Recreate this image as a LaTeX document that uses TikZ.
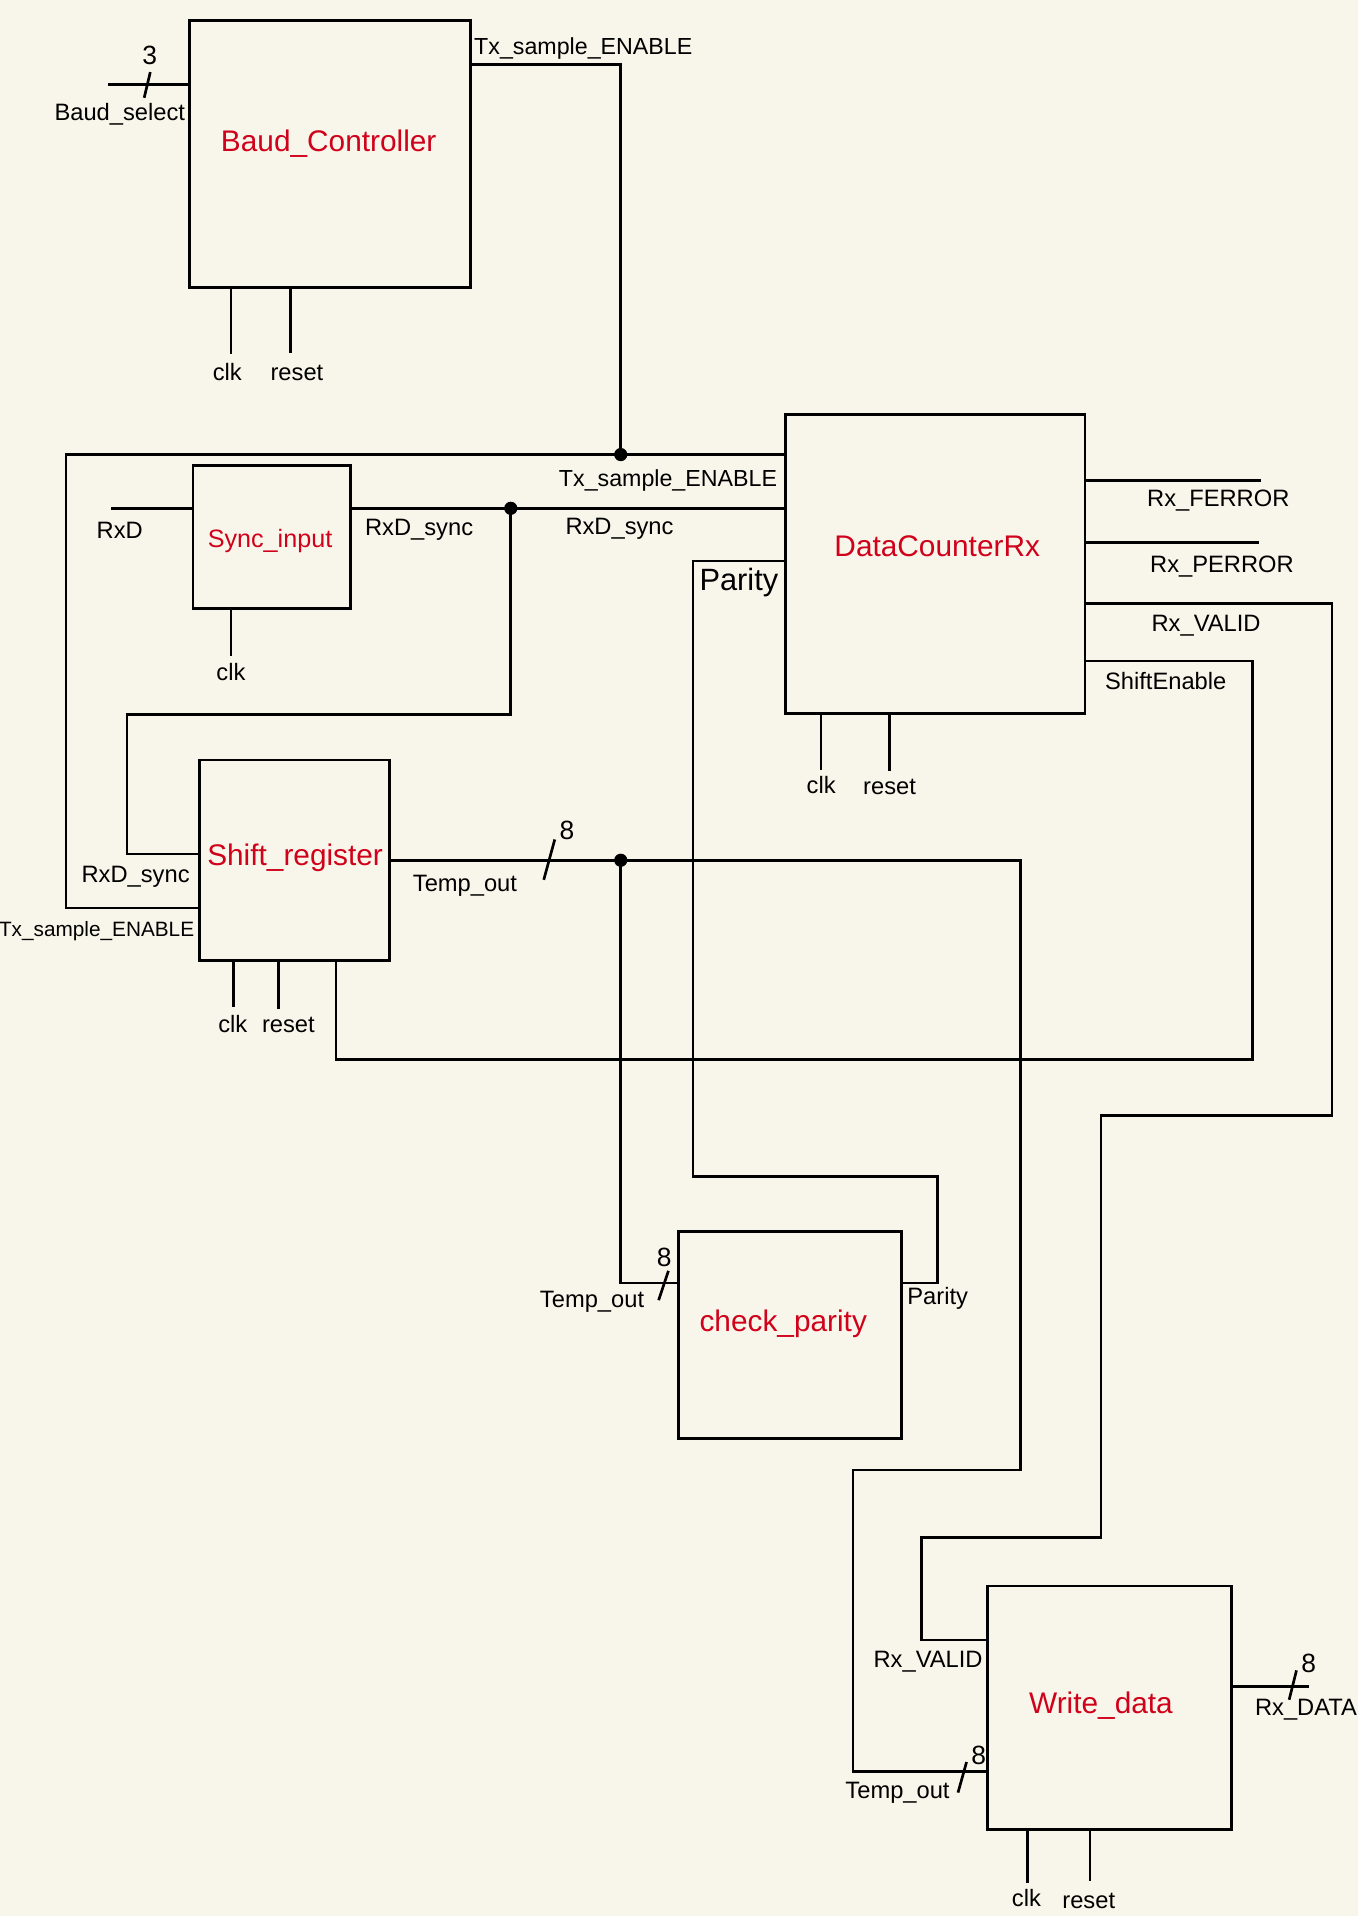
\documentclass[tikz,border=0pt]{standalone}
\usepackage{fontspec}
\setmainfont{Liberation Sans}
\usetikzlibrary{fit}
\definecolor{bgcream}{RGB}{248,246,234}
\definecolor{titlered}{RGB}{208,2,27}
\begin{document}
\begin{tikzpicture}[x=0.5pt,y=-0.5pt,line width=1.1pt,
  blk/.style={draw,line width=1.1pt,inner sep=0pt,outer sep=0pt},
  title/.style={text=titlered,font=\fontsize{12.2}{14}\selectfont,inner sep=0pt,anchor=base},
  stitle/.style={text=titlered,font=\fontsize{10.3}{12}\selectfont,inner sep=0pt,anchor=base},
  lbl/.style={font=\fontsize{9.7}{11}\selectfont,inner sep=0pt,anchor=base},
  slbl/.style={font=\fontsize{9.5}{11}\selectfont,inner sep=0pt,anchor=base},
  tlbl/.style={font=\fontsize{8.5}{10}\selectfont,inner sep=0pt,anchor=base},
  blbl/.style={font=\fontsize{12.6}{14}\selectfont,inner sep=0pt,anchor=base},
  num/.style={font=\fontsize{10.8}{12}\selectfont,inner sep=0pt,anchor=base},
  jdot/.style={circle,fill=black,inner sep=0pt,minimum size=5.4pt}]
\fill[bgcream] (0,0) rectangle (1111,1568);
\useasboundingbox (0,0) rectangle (1111,1568);

% ---------- blocks ----------
\path (155,17) coordinate (bcA) (385,235) coordinate (bcB);
\node[blk,fit=(bcA)(bcB)] (bc) {};
\path (158,381) coordinate (siA) (287,498) coordinate (siB);
\node[blk,fit=(siA)(siB)] (si) {};
\path (643,339) coordinate (dcA) (888,584) coordinate (dcB);
\node[blk,fit=(dcA)(dcB)] (dc) {};
\path (163,622) coordinate (srA) (319,786) coordinate (srB);
\node[blk,fit=(srA)(srB)] (sr) {};
\path (555,1008) coordinate (cpA) (738,1177) coordinate (cpB);
\node[blk,fit=(cpA)(cpB)] (cp) {};
\path (808,1298) coordinate (wdA) (1008,1497) coordinate (wdB);
\node[blk,fit=(wdA)(wdB)] (wd) {};

% ---------- titles ----------
\node[title] (tbc) at (269,124) {Baud\_Controller};
\node[stitle] (tsi) at (221,448) {Sync\_input};
\node[title] (tdc) at (767,455.5) {DataCounterRx};
\node[title] (tsr) at (241.5,708) {Shift\_register};
\node[title] (tcp) at (641,1090) {check\_parity};
\node[title] (twd) at (901,1402) {Write\_data};

% ---------- junctions ----------
\node[jdot] (j1) at (508,372) {};
\node[jdot] (j2) at (418,416) {};
\node[jdot] (j3) at (508,704) {};

% ---------- free ends ----------
\coordinate (bsin) at (88,69);
\coordinate (rxdin) at (91,416);
\coordinate (ferr) at (1032,393);
\coordinate (perr) at (1030,444);
\coordinate (rxdata) at (1071,1380);
\coordinate (bcclk) at (189,290);
\coordinate (bcrst) at (238,289);
\coordinate (siclk) at (189,537);
\coordinate (dcclk) at (672,630);
\coordinate (dcrst) at (728,631);
\coordinate (srclk) at (191,824);
\coordinate (srrst) at (228,826);
\coordinate (wdclk) at (841,1541);
\coordinate (wdrst) at (892,1539);

% ---------- Baud_Controller ----------
\draw (bsin) -- (bc.west |- bsin);
\draw (118,80) -- (123,59);
\node[num] (n3) at (122.5,53) {3};
\node[lbl] (lbs) at (98,98.5) {Baud\_select};
\draw (bc.south -| bcclk) -- (bcclk);
\draw (bc.south -| bcrst) -- (bcrst);
\node[lbl] (lbcclk) at (186,311) {clk};
\node[lbl] (lbcrst) at (243,311) {reset};
\draw (bc.east |- 0,53) -- (508,53) -- (j1.center);
\node[slbl,anchor=base west] (ltx1) at (387,45) {Tx\_sample\_ENABLE};

% ---------- Tx_sample_ENABLE bus ----------
\draw (dc.west |- j1) -- (j1.center) -- (54,372) -- (54,743) -- (sr.west |- 0,743);
\node[slbl,anchor=base east] (ltx2) at (637,398.5) {Tx\_sample\_ENABLE};
\node[tlbl,anchor=base east] (ltx3) at (160,766) {Tx\_sample\_ENABLE};

% ---------- Sync_input ----------
\draw (rxdin) -- (si.west |- rxdin);
\node[lbl] (lrxd) at (98,440.5) {RxD};
\draw (si.south -| siclk) -- (siclk);
\node[lbl] (lsiclk) at (189,557) {clk};
\draw (si.east |- j2) -- (j2.center) -- (dc.west |- j2);
\node[lbl] (lrs1) at (343,438.5) {RxD\_sync};
\node[lbl] (lrs2) at (507,437.5) {RxD\_sync};
\draw (j2.center) -- (418,585) -- (104,585) -- (104,699) -- (sr.west |- 0,699);
\node[lbl] (lrs3) at (111,722.5) {RxD\_sync};

% ---------- DataCounterRx ----------
\draw (dc.west |- 0,459) -- (567,459) -- (567,963) -- (767,963) -- (767,1050) -- (cp.east |- 0,1050);
\node[blbl,anchor=base east] (lpar1) at (638,483) {Parity};
\node[lbl,anchor=base west] (lpar2) at (741.5,1067.5) {Parity};
\draw (dc.east |- ferr) -- (ferr);
\node[lbl] (lferr) at (997,414.5) {Rx\_FERROR};
\draw (dc.east |- perr) -- (perr);
\node[lbl] (lperr) at (1000,468.5) {Rx\_PERROR};
\draw (dc.east |- 0,494) -- (1090,494) -- (1090,913) -- (901,913) -- (901,1258) -- (754,1258) -- (754,1342) -- (wd.west |- 0,1342);
\node[lbl] (lval1) at (987,517) {Rx\_VALID};
\node[lbl] (lval2) at (759.5,1365) {Rx\_VALID};
\draw (dc.south -| dcclk) -- (dcclk);
\draw (dc.south -| dcrst) -- (dcrst);
\node[lbl] (ldcclk) at (672,649) {clk};
\node[lbl] (ldcrst) at (728,650.5) {reset};
\node[lbl] (lse) at (954,564) {ShiftEnable};

% ---------- Shift_register ----------
\draw (sr.east |- j3) -- (j3.center) -- (835,704) -- (835,1203) -- (698,1203) -- (698,1450) -- (wd.west |- 0,1450);
\draw (445,720) -- (454,687);
\node[num] (n8a) at (464,687) {8};
\node[lbl] (ltmp1) at (380.5,729.5) {Temp\_out};
\draw (j3.center) -- (508,1050) -- (cp.west |- 0,1050);
\draw (539,1064) -- (547,1040);
\node[num] (n8b) at (543.5,1036.5) {8};
\node[lbl] (ltmp2) at (484.5,1070) {Temp\_out};
\draw (784,1467) -- (791,1442);
\node[num] (n8c) at (801,1444) {8};
\node[lbl] (ltmp3) at (734.5,1472) {Temp\_out};
\draw (sr.south -| srclk) -- (srclk);
\draw (sr.south -| srrst) -- (srrst);
\node[lbl] (lsrclk) at (190.5,845) {clk};
\node[lbl] (lsrrst) at (236,845) {reset};
\draw (sr.south -| 275,0) -- (275,867) -- (1025,867) -- (1025,541) -- (dc.east |- 0,541);

% ---------- Write_data ----------
\draw (wd.east |- rxdata) -- (rxdata);
\draw (1055,1391) -- (1061,1367);
\node[num] (n8d) at (1071,1369) {8};
\node[lbl,anchor=base west] (lrxdata) at (1026,1404) {Rx\_DATA};
\draw (wd.south -| wdclk) -- (wdclk);
\draw (wd.south -| wdrst) -- (wdrst);
\node[lbl] (lwdclk) at (840,1560) {clk};
\node[lbl] (lwdrst) at (891,1562) {reset};
\end{tikzpicture}
\end{document}
